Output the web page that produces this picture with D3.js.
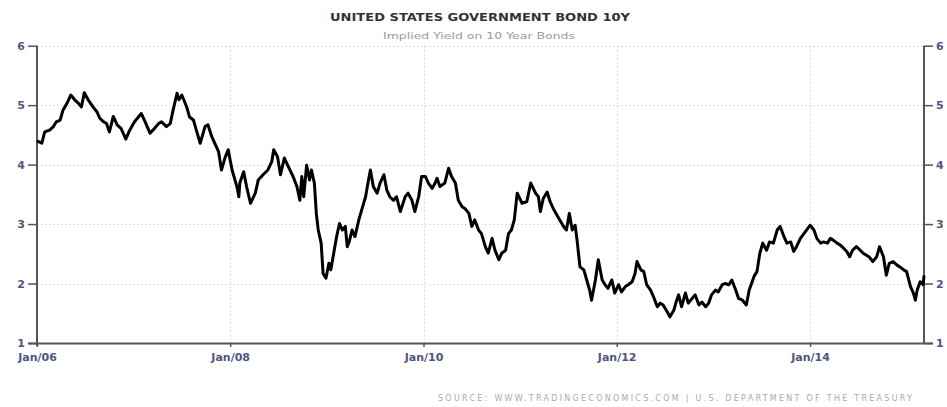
<!DOCTYPE html>
<html>
<head>
<meta charset="utf-8">
<script src="https://cdn.jsdelivr.net/npm/d3@7"></script>
<style>
  html, body { margin: 0; padding: 0; background: #fff; }
  svg { display: block; }
</style>
</head>
<body>
<svg id="chart" width="947" height="407"></svg>
<script>
// ---- DATA (decimal year, yield %) ----
const dates = [
  2006.01,2006.05,2006.08,2006.13,2006.17,2006.20,2006.24,2006.27,2006.31,2006.35,
  2006.39,2006.43,2006.46,2006.49,2006.53,2006.58,2006.62,2006.65,2006.69,2006.72,
  2006.75,2006.79,2006.83,2006.87,2006.92,2006.96,2007.01,2007.08,2007.12,2007.17,
  2007.20,2007.26,2007.29,2007.34,2007.38,2007.41,2007.45,2007.47,2007.50,2007.55,
  2007.58,2007.62,2007.65,2007.69,2007.74,2007.77,2007.81,2007.84,2007.88,2007.91,
  2007.95,2007.98,2008.02,2008.07,2008.09,2008.10,2008.14,2008.17,2008.21,2008.26,
  2008.29,2008.34,2008.39,2008.43,2008.45,2008.49,2008.52,2008.56,2008.60,2008.65,
  2008.69,2008.72,2008.74,2008.76,2008.79,2008.82,2008.84,2008.87,2008.89,2008.91,
  2008.94,2008.96,2008.99,2009.02,2009.04,2009.07,2009.10,2009.13,2009.16,2009.19,
  2009.21,2009.23,2009.26,2009.29,2009.33,2009.36,2009.40,2009.43,2009.45,2009.48,
  2009.52,2009.55,2009.59,2009.62,2009.65,2009.69,2009.72,2009.76,2009.81,2009.84,
  2009.88,2009.91,2009.95,2009.98,2010.02,2010.05,2010.09,2010.12,2010.14,2010.17,
  2010.22,2010.26,2010.29,2010.33,2010.36,2010.40,2010.43,2010.47,2010.50,2010.53,
  2010.57,2010.60,2010.64,2010.67,2010.71,2010.74,2010.78,2010.81,2010.85,2010.88,
  2010.91,2010.94,2010.97,2011.02,2011.07,2011.11,2011.16,2011.19,2011.21,2011.24,
  2011.28,2011.31,2011.35,2011.40,2011.45,2011.48,2011.51,2011.54,2011.57,2011.59,
  2011.62,2011.66,2011.69,2011.72,2011.74,2011.78,2011.81,2011.85,2011.88,2011.91,
  2011.95,2011.98,2012.02,2012.05,2012.09,2012.12,2012.16,2012.19,2012.21,2012.25,
  2012.28,2012.31,2012.35,2012.38,2012.42,2012.45,2012.48,2012.52,2012.55,2012.59,
  2012.62,2012.64,2012.67,2012.71,2012.74,2012.78,2012.81,2012.85,2012.88,2012.92,
  2012.95,2012.98,2013.02,2013.05,2013.09,2013.12,2013.16,2013.19,2013.23,2013.26,
  2013.30,2013.34,2013.37,2013.42,2013.45,2013.48,2013.51,2013.55,2013.58,2013.62,
  2013.66,2013.69,2013.73,2013.76,2013.80,2013.83,2013.86,2013.90,2013.95,2014.00,
  2014.04,2014.07,2014.11,2014.14,2014.18,2014.21,2014.24,2014.28,2014.31,2014.35,
  2014.38,2014.41,2014.44,2014.48,2014.52,2014.55,2014.61,2014.65,2014.69,2014.72,
  2014.76,2014.79,2014.82,2014.86,2014.90,2014.93,2014.97,2015.00,2015.04,2015.07,
  2015.09,2015.11,2015.14,2015.17,2015.18
];
const yields = [
  4.39,4.36,4.55,4.58,4.64,4.72,4.75,4.92,5.03,5.17,
  5.09,5.03,4.97,5.21,5.09,4.97,4.89,4.78,4.72,4.69,
  4.55,4.81,4.67,4.61,4.43,4.58,4.72,4.86,4.72,4.53,
  4.58,4.69,4.72,4.64,4.69,4.92,5.20,5.09,5.17,4.97,
  4.80,4.75,4.58,4.36,4.64,4.67,4.47,4.36,4.22,3.91,
  4.13,4.25,3.91,3.63,3.46,3.69,3.88,3.63,3.35,3.52,
  3.74,3.83,3.91,4.05,4.25,4.13,3.83,4.11,3.97,3.80,
  3.63,3.40,3.80,3.46,3.99,3.74,3.91,3.69,3.18,2.90,
  2.68,2.17,2.09,2.34,2.23,2.51,2.79,3.01,2.90,2.96,
  2.62,2.70,2.90,2.79,3.07,3.24,3.46,3.74,3.91,3.63,
  3.52,3.69,3.83,3.57,3.46,3.40,3.46,3.21,3.46,3.52,
  3.40,3.21,3.46,3.80,3.80,3.69,3.60,3.69,3.77,3.63,
  3.69,3.94,3.80,3.69,3.40,3.29,3.26,3.18,2.96,3.07,
  2.90,2.84,2.62,2.51,2.76,2.56,2.40,2.51,2.56,2.84,
  2.90,3.07,3.52,3.35,3.38,3.69,3.52,3.46,3.21,3.43,
  3.54,3.38,3.24,3.10,2.96,2.90,3.18,2.90,2.98,2.73,
  2.28,2.23,2.06,1.89,1.72,2.06,2.40,2.06,1.98,1.92,
  2.06,1.84,1.98,1.86,1.95,1.98,2.03,2.17,2.37,2.23,
  2.20,1.98,1.89,1.78,1.61,1.67,1.64,1.53,1.44,1.55,
  1.72,1.81,1.61,1.84,1.67,1.75,1.81,1.64,1.69,1.61,
  1.67,1.81,1.89,1.86,1.98,2.00,1.98,2.06,1.89,1.75,
  1.72,1.64,1.89,2.12,2.20,2.51,2.68,2.56,2.70,2.68,
  2.90,2.96,2.79,2.68,2.70,2.54,2.62,2.76,2.87,2.98,
  2.90,2.76,2.68,2.70,2.68,2.76,2.73,2.68,2.65,2.59,
  2.54,2.45,2.56,2.62,2.56,2.51,2.45,2.37,2.45,2.62,
  2.45,2.14,2.34,2.37,2.31,2.28,2.23,2.20,1.95,1.84,
  1.72,1.89,2.03,1.98,2.12
];
const yTicks = [1, 2, 3, 4, 5, 6];
const xTickYears = [2006, 2008, 2010, 2012, 2014];
const domainStart = 2006.0;
const domainEnd = 2015.18;
const titleText = "UNITED STATES GOVERNMENT BOND 10Y";
const subtitleText = "Implied Yield on 10 Year Bonds";
const sourceText = "SOURCE: WWW.TRADINGECONOMICS.COM  |  U.S. DEPARTMENT OF THE TREASURY";

// ---- helpers ----
function decToDate(t) {
  const yr = Math.floor(t);
  const a = Date.UTC(yr, 0, 1), b = Date.UTC(yr + 1, 0, 1);
  return new Date(a + (t - yr) * (b - a));
}
const data = dates.map((d, i) => ({ date: decToDate(d), value: yields[i] }));

const svg = d3.select("#chart");
const pLeft = 37, pRight = 924, pTop = 45.7, pBottom = 343;

const x = d3.scaleUtc().domain([decToDate(domainStart), decToDate(domainEnd)]).range([pLeft, pRight]);
const y = d3.scaleLinear().domain([1, 6]).range([pBottom, pTop]);

const labelColor = "#4d5580";
const axisColor = "#555";

// gridlines
const grid = svg.append("g");
grid.selectAll("line.h").data(yTicks.filter(v => v > 1)).join("line")
  .attr("x1", pLeft).attr("x2", pRight)
  .attr("y1", d => Math.round(y(d)) + 0.5).attr("y2", d => Math.round(y(d)) + 0.5)
  .attr("stroke", "#dcdcdc").attr("stroke-width", 1).attr("stroke-dasharray", "2,2");
grid.selectAll("line.v").data(xTickYears.filter(v => v > 2006)).join("line")
  .attr("x1", d => Math.round(x(decToDate(d))) + 0.5).attr("x2", d => Math.round(x(decToDate(d))) + 0.5)
  .attr("y1", pTop).attr("y2", pBottom)
  .attr("stroke", "#dcdcdc").attr("stroke-width", 1).attr("stroke-dasharray", "2,2");

// axes
const fmt = d3.utcFormat("Jan/%y");
const xAxis = d3.axisBottom(x)
  .tickValues(xTickYears.map(decToDate))
  .tickFormat(fmt).tickSize(4).tickPadding(6);
const gx = svg.append("g").attr("transform", `translate(0,${pBottom})`).call(xAxis);
gx.select(".domain").attr("d", `M${pLeft - 9},0.5H${pRight + 9}`).attr("stroke", axisColor).attr("stroke-width", 2);

const gyl = svg.append("g").attr("transform", `translate(${pLeft},0)`)
  .call(d3.axisLeft(y).tickValues(yTicks).tickFormat(d3.format("d")).tickSize(9).tickPadding(3));
gyl.select(".domain").attr("d", `M0,${pTop}V${pBottom + 3}`).attr("stroke", axisColor).attr("stroke-width", 2);

const gyr = svg.append("g").attr("transform", `translate(${pRight},0)`)
  .call(d3.axisRight(y).tickValues(yTicks).tickFormat(d3.format("d")).tickSize(9).tickPadding(3));
gyr.select(".domain").attr("d", `M0,${pTop}V${pBottom}`).attr("stroke", axisColor).attr("stroke-width", 2);

svg.selectAll(".tick line").attr("stroke", axisColor).attr("stroke-width", 1.5);
svg.selectAll(".tick text")
  .attr("fill", labelColor)
  .style("font-family", "'DejaVu Sans', sans-serif")
  .style("font-size", "11px").style("font-weight", "bold");

// line
const line = d3.line().x(d => x(d.date)).y(d => y(d.value));
svg.append("path").datum(data)
  .attr("fill", "none").attr("stroke", "#000").attr("stroke-width", 3)
  .attr("stroke-linejoin", "round").attr("stroke-linecap", "round")
  .attr("d", line);

// texts
svg.append("text").attr("x", 330).attr("y", 21)
  .attr("textLength", 300).attr("lengthAdjust", "spacingAndGlyphs")
  .style("font-family", "'DejaVu Sans', sans-serif").style("font-size", "11px").style("font-weight", "bold")
  .attr("fill", "#333").text(titleText);
svg.append("text").attr("x", 383).attr("y", 39)
  .attr("textLength", 192).attr("lengthAdjust", "spacingAndGlyphs")
  .style("font-family", "'DejaVu Sans', sans-serif").style("font-size", "9px")
  .attr("fill", "#999").text(subtitleText);
svg.append("text").attr("x", 438).attr("y", 401)
  .attr("textLength", 474).attr("lengthAdjust", "spacing")
  .style("font-family", "'DejaVu Sans', sans-serif").style("font-size", "8px")
  .attr("fill", "#aaa").text(sourceText);
</script>
</body>
</html>
